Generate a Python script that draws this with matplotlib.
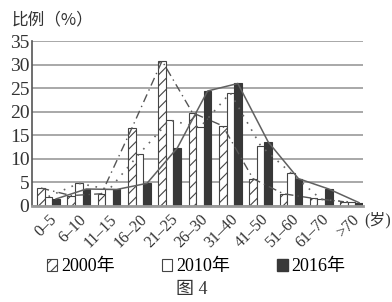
import matplotlib.pyplot as plt
import numpy as np
from matplotlib.patches import Patch

plt.rcParams['font.family'] = ['Liberation Serif', 'Noto Sans CJK SC']
plt.rcParams['hatch.linewidth'] = 0.8

# age groups and share of population (%)
ages = ['0–5', '6–10', '11–15', '16–20', '21–25', '26–30',
        '31–40', '41–50', '51–60', '61–70', '>70']
y2000 = [3.8, 2.2, 2.6, 16.5, 30.8, 19.8, 17.0, 5.8, 2.6, 1.6, 0.9]
y2010 = [2.0, 4.8, 3.5, 11.1, 18.2, 16.7, 24.0, 12.8, 7.0, 1.4, 0.8]
y2016 = [1.5, 3.6, 3.5, 4.8, 12.3, 24.4, 26.0, 13.6, 5.8, 3.6, 0.7]

x = np.arange(len(ages))
w = 0.25

fig = plt.figure(figsize=(3.92, 3.02), dpi=100)
ax = fig.add_axes([0.082, 0.318, 0.844, 0.546])

ax.set_ylim(0, 35)
ax.set_xlim(-0.54, 10.38)
ax.set_yticks(range(0, 36, 5))
ax.grid(axis='y', color='#a8a8a8', linewidth=1.4)
ax.set_axisbelow(True)

ax.bar(x - w, y2000, w, color='white', edgecolor='#444444', hatch='///', linewidth=0.8)
ax.bar(x, y2010, w, color='white', edgecolor='#444444', linewidth=0.8)
ax.bar(x + w, y2016, w, color='#383838', edgecolor='#383838', linewidth=0.8)

# trend lines through the bar tops
ax.plot(x - w, y2000, color='#555555', linestyle=(0, (6, 3, 1, 3)), linewidth=1.0)
ax.plot(x, y2010, color='#666666', linestyle=(0, (1, 4)), linewidth=1.2)
ax.plot(x + w, y2016, color='#606060', linestyle='-', linewidth=1.1)

for s in ['top', 'right']:
    ax.spines[s].set_visible(False)
ax.spines['left'].set_color('#555555')
ax.spines['left'].set_linewidth(1.2)
ax.spines['bottom'].set_color('#999999')
ax.spines['bottom'].set_linewidth(2)
ax.tick_params(axis='both', length=0, colors='#333333')
ax.tick_params(axis='y', pad=2, labelsize=14)

ax.set_xticks(x)
ax.set_xticklabels(ages, rotation=45, ha='right', rotation_mode='anchor', fontsize=11.5)
ax.tick_params(axis='x', pad=4)

fig.text(0.998, 0.272, '(岁)', fontsize=11.5, color='#333333', ha='right', va='center')
fig.text(0.03, 0.934, '比例（%）', fontsize=12, color='#333333', ha='left', va='center',
         family=['Noto Sans CJK SC'])

handles = [Patch(facecolor='white', edgecolor='#444444', hatch='///', linewidth=0.8),
           Patch(facecolor='white', edgecolor='#444444', linewidth=0.8),
           Patch(facecolor='#383838', edgecolor='#383838')]
fig.legend(handles, ['2000年', '2010年', '2016年'], loc='center', ncol=3,
           bbox_to_anchor=(0.5, 0.116), frameon=False, fontsize=13,
           handlelength=0.6, handleheight=0.6, handletextpad=0.2, columnspacing=2.6)

fig.text(0.49, 0.04, '图 4', fontsize=13, color='#333333', ha='center', va='center')

fig.savefig('out.png', dpi=100)
